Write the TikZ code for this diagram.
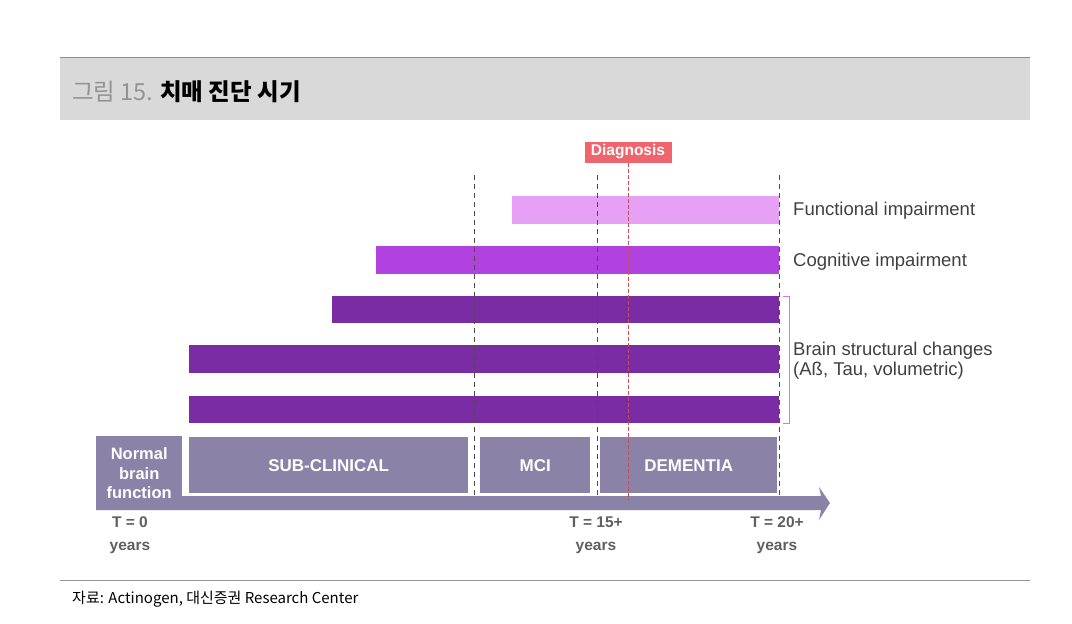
\documentclass[tikz,border=0pt]{standalone}
\usepackage{fontspec}
\setmainfont{Liberation Sans}
\newfontfamily\krfont{Noto Sans CJK KR}
\usetikzlibrary{positioning}

\definecolor{bandgray}{RGB}{217,217,217}
\definecolor{rulegray}{RGB}{150,150,150}
\definecolor{topblue}{RGB}{110,145,205}
\definecolor{diagred}{RGB}{240,100,110}
\definecolor{funcpink}{RGB}{230,160,245}
\definecolor{cogpurple}{RGB}{178,66,224}
\definecolor{brainpurple}{RGB}{122,44,165}
\definecolor{phasegray}{RGB}{139,130,168}
\definecolor{labelgray}{RGB}{64,64,64}
\definecolor{tgray}{RGB}{95,95,95}

\tikzset{
  rowlabel/.style={anchor=west, text=labelgray, font=\fontsize{18.5}{22}\selectfont, inner sep=0pt},
  phasebox/.style={fill=phasegray, text=white, font=\bfseries\fontsize{17}{19}\selectfont, inner sep=0pt},
  tlabel/.style={text=tgray, font=\bfseries\fontsize{15.5}{23}\selectfont, align=center, inner sep=0pt},
  guide/.style={black!70, dashed, dash pattern=on 5pt off 4pt, line width=0.9pt}
}

\begin{document}
\begin{tikzpicture}[x=1pt, y=-1pt]
    \useasboundingbox (0,0) rectangle (1072,624);

    % Title band
    \fill[bandgray] (60,57) rectangle (1030,120);
    \draw[topblue, line width=1pt] (60,57) -- (1030,57);
    \node[anchor=base west, inner sep=0pt, font=\krfont\fontsize{23.5}{27}\selectfont] (title) at (72,100)
      {\textcolor{gray!85}{그림 15.} \bfseries 치매 진단 시기};

    % Bars
    \fill[funcpink] (512,196) rectangle (779,224);
    \fill[cogpurple] (376,246) rectangle (779,274);
    \fill[brainpurple] (332,296) rectangle (779,323);
    \fill[brainpurple] (189,345) rectangle (779,373);
    \fill[brainpurple] (189,396) rectangle (779,423);

    % Phases
    \fill[phasegray] (96,496) -- (821,496) -- (819,487) -- (830,503) -- (819,520) -- (821,510) -- (96,510) -- cycle;
    \node[phasebox, minimum width=86pt, minimum height=74pt, anchor=north west, align=center,
          font=\bfseries\fontsize{16.5}{19.5}\selectfont] (normal) at (96,436) {Normal\\brain\\function};
    \node[phasebox, minimum width=279pt, minimum height=56pt, anchor=north west] (sub) at (189,437) {SUB-CLINICAL};
    \node[phasebox, minimum width=110pt, minimum height=56pt, anchor=north west] (mci) at (480,437) {MCI};
    \node[phasebox, minimum width=177pt, minimum height=56pt, anchor=north west] (dem) at (600,437) {DEMENTIA};

    % Guides
    \foreach \gx [count=\i] in {474,597,779} {
      \coordinate (g\i top) at (\gx,175);
      \coordinate (g\i bot) at (\gx,496);
      \draw[guide] (g\i top) -- (g\i bot);
    }

    % Diagnosis
    \node[fill=diagred, text=white, font=\bfseries\fontsize{15.5}{17}\selectfont, minimum width=87pt, minimum height=21pt,
          inner sep=0pt] (diag) at (628,152) {Diagnosis};
    \coordinate (diagend) at (628,500);
    \draw[diagred!80!black, dashed, dash pattern=on 4pt off 2pt, line width=0.8pt] (diag.south) -- (diagend);

    % Bracket
    \coordinate (brtop) at (783,296);
    \coordinate (brbot) at (783,423);
    \draw[cogpurple!70, line width=0.9pt] (brtop) -- ++(6,0) -- ++(0,127) -- (brbot);

    % Labels
    \node[rowlabel] (func) at (793,211) {Functional impairment};
    \node[rowlabel] (cog) at (793,262) {Cognitive impairment};
    \node[rowlabel, align=left, font=\fontsize{18.5}{20}\selectfont] (brain) at (793,361)
      {Brain structural changes\\(Aß, Tau, volumetric)};

    \node[tlabel] (t0) at (130,535) {T = 0\\years};
    \node[tlabel] (t15) at (596,535) {T = 15+\\years};
    \node[tlabel] (t20) at (777,535) {T = 20+\\years};

    % Source
    \draw[rulegray, line width=0.8pt] (60,580) -- (1030,580);
    \node[anchor=base west, inner sep=0pt, font=\krfont\fontsize{15}{17}\selectfont] (src) at (72,603)
      {자료: Actinogen, 대신증권 Research Center};
\end{tikzpicture}
\end{document}
